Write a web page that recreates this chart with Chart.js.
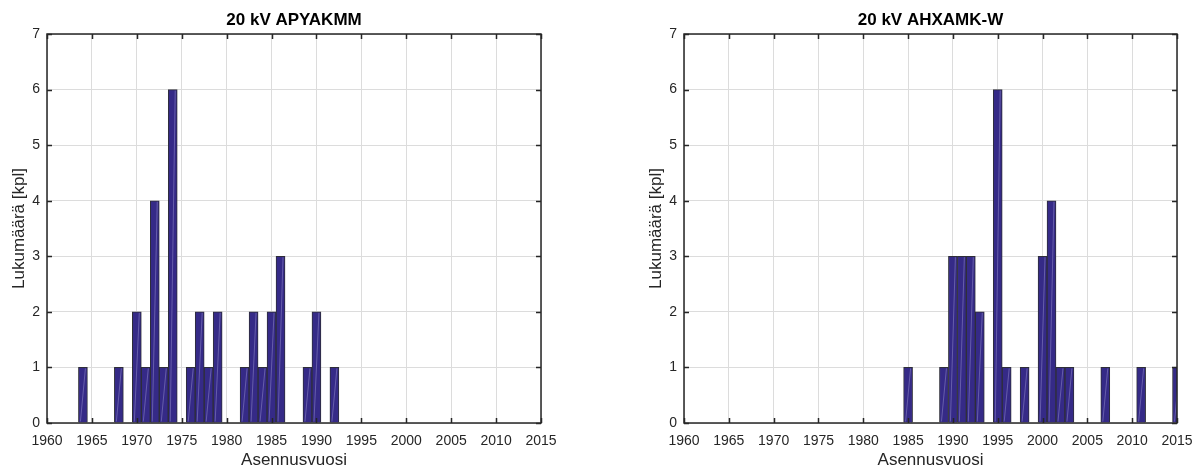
<!DOCTYPE html>
<html>
<head>
<meta charset="utf-8">
<script src="https://cdn.jsdelivr.net/npm/chart.js@4/dist/chart.umd.min.js"></script>
<style>
  html, body { margin: 0; padding: 0; background: #fff; }
  .panel { position: absolute; top: 0; }
</style>
</head>
<body>
<div class="panel" style="left:0"><canvas id="chartA" width="598" height="471"></canvas></div>
<div class="panel" style="left:598px"><canvas id="chartB" width="599" height="471"></canvas></div>
<script>
// === DATA ===
const titleA = "20 kV APYAKMM";
const yearsA = [1964, 1968, 1970, 1971, 1972, 1973, 1974, 1976, 1977, 1978, 1979,
                1982, 1983, 1984, 1985, 1986, 1989, 1990, 1992];
const countsA = [1, 1, 2, 1, 4, 1, 6, 1, 2, 1, 2,
                 1, 2, 1, 2, 3, 1, 2, 1];

const titleB = "20 kV AHXAMK-W";
const yearsB = [1985, 1989, 1990, 1991, 1992, 1993, 1995, 1996, 1998,
                2000, 2001, 2002, 2003, 2007, 2011, 2015];
const countsB = [1, 1, 3, 3, 3, 2, 6, 1, 1,
                 3, 4, 1, 1, 1, 1, 1];

const xLabel = "Asennusvuosi";
const yLabel = "Lukumäärä [kpl]";

const FONT = 'Arial, "Liberation Sans", Helvetica, sans-serif';
const BAR_FILL = "#352a87";
const TEXT = "#262626";

// frame, inward ticks, titles, the faint streak in each bar
const framePlugin = {
  id: "frame",
  afterDatasetsDraw(chart, args, opts) {
    const { ctx, chartArea: a, scales } = chart;
    const x = scales.x, y = scales.y;
    ctx.save();

    // faint diagonal streak that the original renderer left in the bars
    const meta = chart.getDatasetMeta(0);
    ctx.beginPath();
    ctx.rect(a.left, a.top, a.right - a.left, a.bottom - a.top);
    ctx.clip();
    ctx.strokeStyle = "rgba(190,185,235,0.45)";
    ctx.lineWidth = 0.8;
    meta.data.forEach(bar => {
      const p = bar.getProps(["x", "y", "base", "width"], true);
      ctx.beginPath();
      ctx.moveTo(p.x - p.width / 2 + 2, p.base - 1);
      ctx.lineTo(p.x + p.width / 2 - 2, p.y + 1);
      ctx.stroke();
    });
    ctx.restore();
    ctx.save();

    ctx.strokeStyle = TEXT;
    ctx.lineWidth = 1.5;
    ctx.strokeRect(a.left, a.top, a.right - a.left, a.bottom - a.top);

    ctx.beginPath();
    x.ticks.forEach((t, i) => {
      const px = Math.round(x.getPixelForTick(i)) + 0.5;
      ctx.moveTo(px, a.bottom); ctx.lineTo(px, a.bottom - 5);
      ctx.moveTo(px, a.top); ctx.lineTo(px, a.top + 5);
    });
    y.ticks.forEach((t, i) => {
      const py = Math.round(y.getPixelForTick(i)) + 0.5;
      ctx.moveTo(a.left, py); ctx.lineTo(a.left + 5, py);
      ctx.moveTo(a.right, py); ctx.lineTo(a.right - 5, py);
    });
    ctx.lineWidth = 1.5;
    ctx.stroke();

    // title
    ctx.fillStyle = "#000";
    ctx.font = "bold 17px " + FONT;
    ctx.textAlign = "center";
    ctx.textBaseline = "middle";
    ctx.fillText(opts.title, (a.left + a.right) / 2, 20);

    // axis titles
    ctx.fillStyle = TEXT;
    ctx.font = "17px " + FONT;
    ctx.fillText(xLabel, (a.left + a.right) / 2, 460);
    ctx.translate(a.left - 28, (a.top + a.bottom) / 2);
    ctx.rotate(-Math.PI / 2);
    ctx.fillText(yLabel, 0, 0);
    ctx.restore();
  }
};

function makeChart(id, title, years, counts, leftW, rightPad) {
  const ctx = document.getElementById(id).getContext("2d");
  return new Chart(ctx, {
    type: "bar",
    data: {
      datasets: [{
        data: years.map((yr, i) => ({ x: yr, y: counts[i] })),
        backgroundColor: BAR_FILL,
        borderColor: "#2e2e38",
        borderWidth: 1,
        barPercentage: 1,
        categoryPercentage: 1
      }]
    },
    options: {
      responsive: false,
      animation: false,
      layout: { padding: { top: 34, right: rightPad, left: 0, bottom: 0 } },
      plugins: {
        legend: { display: false },
        tooltip: { enabled: false },
        frame: { title: title }
      },
      scales: {
        x: {
          type: "linear",
          offset: false,
          min: 1960,
          max: 2015,
          ticks: {
            stepSize: 5,
            color: TEXT,
            font: { family: FONT, size: 14 },
            padding: 10,
            maxRotation: 0,
            autoSkip: false,
            callback: v => String(v)
          },
          grid: { color: "#dcdcdc", drawTicks: false, offset: false },
          border: { display: false },
          afterFit: s => { s.height = 48; s.paddingLeft = 0; s.paddingRight = 0; }
        },
        y: {
          min: 0,
          max: 7,
          ticks: {
            stepSize: 1,
            color: TEXT,
            font: { family: FONT, size: 14 },
            padding: 7
          },
          grid: { color: "#dcdcdc", drawTicks: false },
          border: { display: false },
          afterFit: s => { s.width = leftW; s.paddingTop = 0; s.paddingBottom = 0; }
        }
      }
    },
    plugins: [framePlugin]
  });
}

makeChart("chartA", titleA, yearsA, countsA, 47, 57);
makeChart("chartB", titleB, yearsB, countsB, 86, 20);
</script>
</body>
</html>
